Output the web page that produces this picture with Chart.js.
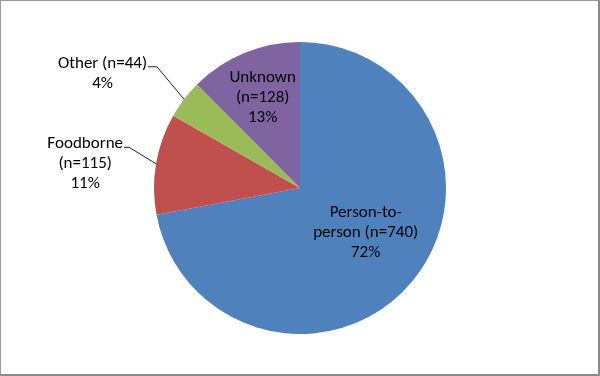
<!DOCTYPE html>
<html>
<head>
<meta charset="utf-8">
<script src="https://cdn.jsdelivr.net/npm/chart.js@4/dist/chart.umd.min.js"></script>
<style>
  html, body { margin: 0; padding: 0; background: #fff; }
  #wrap { position: relative; width: 600px; height: 376px; }
  #frame {
    position: absolute; left: 0; top: 0; right: 0; bottom: 0;
    border-left: 1px solid #9a9a9a; border-top: 1px solid #9a9a9a;
    border-right: 2px solid #8a8a8a; border-bottom: 2px solid #8a8a8a;
    pointer-events: none;
  }
</style>
</head>
<body>
<div id="wrap">
  <canvas id="pie" width="600" height="376"></canvas>
  <div id="frame"></div>
</div>
<script>
// data
const categories = ["Person-to-person", "Foodborne", "Other", "Unknown"];
const counts = [740, 115, 44, 128];
const percentLabels = ["72%", "11%", "4%", "13%"];
const colors = ["#4F81BD", "#C0504D", "#9BBB59", "#8064A2"];

// how each label is broken into lines and where it goes
const labelLines = [
  ["Person-to-", "person (n=740)", "72%"],
  ["Foodborne", "(n=115)", "11%"],
  ["Other (n=44)", "4%"],
  ["Unknown", "(n=128)", "13%"]
];
const labelPlace = [
  { inside: true, frac: 0.54, nx: 5, ny: -6 },
  { inside: false, ex: -27, ey: -17, hlen: 5 },
  { inside: false, ex: -27, ey: -33, hlen: 9 },
  { inside: true, frac: 0.67, nx: 0, ny: 0 }
];

const FONT = '17px Carlito, Calibri, Lato, "Open Sans", sans-serif';
const LINE_H = 20;

const pieLabels = {
  id: "pieLabels",
  afterDatasetsDraw(chart){
    const ctx = chart.ctx;
    const arcs = chart.getDatasetMeta(0).data;
    ctx.save();
    ctx.font = FONT;
    ctx.fillStyle = "#000";
    ctx.textBaseline = "middle";
    ctx.textAlign = "center";
    arcs.forEach((arc, i) => {
      const p = arc.getProps(["x", "y", "startAngle", "endAngle", "outerRadius"], true);
      const mid = (p.startAngle + p.endAngle) / 2;
      const lines = labelLines[i];
      const pl = labelPlace[i];
      if (pl.inside){
        const r = p.outerRadius * pl.frac;
        const cx = p.x + Math.cos(mid) * r + pl.nx;
        const cy = p.y + Math.sin(mid) * r + pl.ny;
        const top = cy - (lines.length - 1) * LINE_H / 2;
        lines.forEach((t, k) => ctx.fillText(t, cx, top + k * LINE_H));
      } else {
        const px = p.x + Math.cos(mid) * p.outerRadius;
        const py = p.y + Math.sin(mid) * p.outerRadius;
        const ex = px + pl.ex, ey = py + pl.ey;
        ctx.strokeStyle = "#222";
        ctx.lineWidth = 1;
        ctx.beginPath();
        ctx.moveTo(px, py);
        ctx.lineTo(ex, ey + 0.5);
        ctx.lineTo(ex - pl.hlen, ey + 0.5);
        ctx.stroke();
        const right = ex - pl.hlen - 1;
        const w0 = ctx.measureText(lines[0]).width;
        const cx = right - w0 / 2;
        const top = ey - 3;
        lines.forEach((t, k) => ctx.fillText(t, cx, top + k * LINE_H));
      }
    });
    ctx.restore();
  }
};

new Chart(document.getElementById("pie"), {
  type: "pie",
  data: {
    labels: categories,
    datasets: [{
      data: counts,
      backgroundColor: colors,
      borderWidth: 0
    }]
  },
  options: {
    responsive: false,
    animation: false,
    layout: { padding: { top: 42, bottom: 42 } },
    plugins: {
      legend: { display: false },
      tooltip: { enabled: false }
    }
  },
  plugins: [pieLabels]
});
</script>
</body>
</html>
